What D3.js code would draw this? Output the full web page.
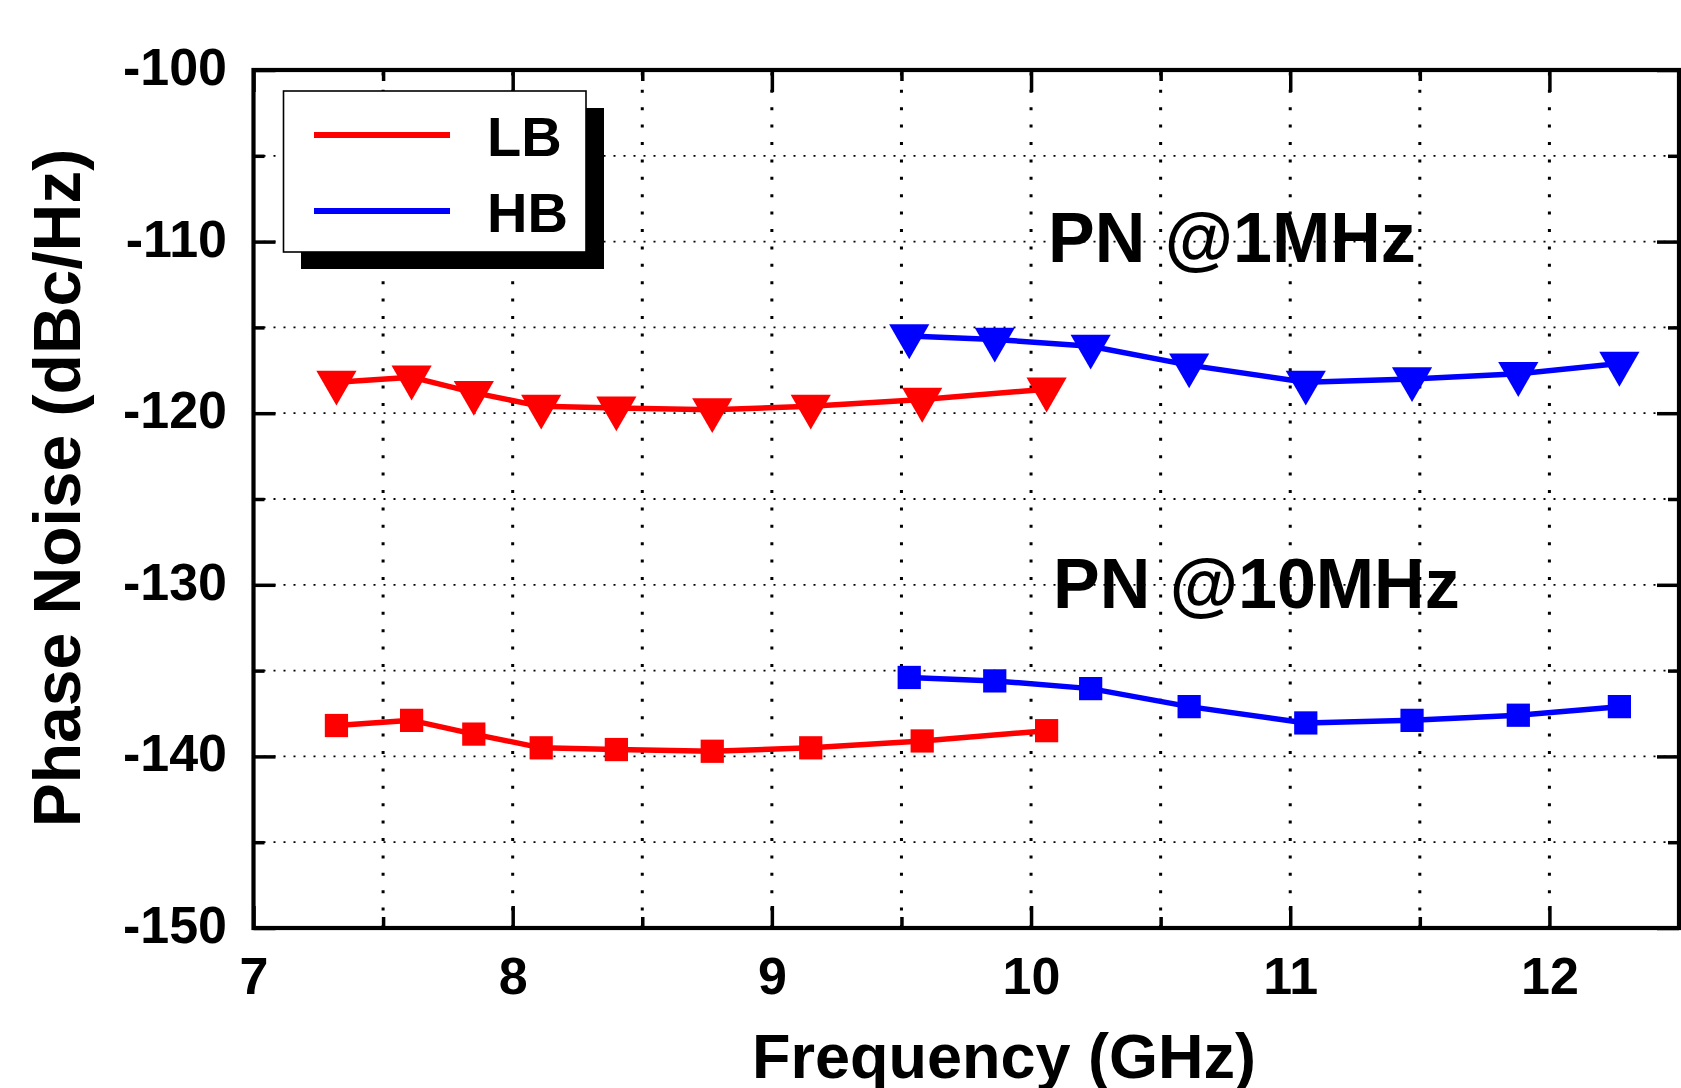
<!DOCTYPE html>
<html>
<head>
<meta charset="utf-8">
<script src="https://cdn.jsdelivr.net/npm/d3@7"></script>
<style>
  html, body { margin: 0; padding: 0; background: #fff; }
  svg { display: block; }
  text { font-family: "Liberation Sans", Arial, Helvetica, sans-serif; font-weight: bold; fill: #000; }
</style>
</head>
<body>
<svg id="chart" width="1681" height="1088"></svg>
<script>
// ---- data ----
const lbFreq  = [7.32, 7.61, 7.85, 8.11, 8.40, 8.77, 9.15, 9.58, 10.06];
const lbPN1M  = [-118.2, -117.9, -118.8, -119.6, -119.7, -119.8, -119.6, -119.2, -118.6];
const lbPN10M = [-138.2, -137.9, -138.7, -139.5, -139.6, -139.7, -139.5, -139.1, -138.5];
const hbFreq  = [9.53, 9.86, 10.23, 10.61, 11.06, 11.47, 11.88, 12.27];
const hbPN1M  = [-115.5, -115.7, -116.1, -117.2, -118.2, -118.0, -117.7, -117.1];
const hbPN10M = [-135.4, -135.6, -136.05, -137.1, -138.05, -137.9, -137.6, -137.1];
const xMajorTicks = [7, 8, 9, 10, 11, 12];
const xMinorTicks = [7.5, 8.5, 9.5, 10.5, 11.5, 12.5];
const yMajorTicks = [-100, -110, -120, -130, -140, -150];
const yMinorTicks = [-105, -115, -125, -135, -145];
const xGrid = [7.5, 8, 8.5, 9, 9.5, 10, 10.5, 11, 11.5, 12];
const yGrid = [-105, -110, -115, -120, -125, -130, -135, -140, -145];
const legendNames = ["LB", "HB"];
const seriesColors = ["#ff0000", "#0000ff"];
const annotations = ["PN @1MHz", "PN @10MHz"];

// ---- layout ----
const L = 253.5, R = 1679, T = 70, B = 928;
const svg = d3.select("#chart");
const x = d3.scaleLinear().domain([7, 12.5]).range([L, R]);
const y = d3.scaleLinear().domain([-150, -100]).range([B, T]);

// grid
const grid = svg.append("g");
grid.selectAll("line.v").data(xGrid).enter().append("line")
  .attr("x1", d => x(d)).attr("x2", d => x(d)).attr("y1", B).attr("y2", T)
  .attr("stroke", "#000").attr("stroke-width", 3).attr("stroke-dasharray", "3,14.4");
grid.selectAll("line.h").data(yGrid).enter().append("line")
  .attr("x1", L).attr("x2", R).attr("y1", d => y(d)).attr("y2", d => y(d))
  .attr("stroke", "#000").attr("stroke-width", 1.8).attr("stroke-dasharray", "2,8");

// annotations
svg.append("text").attr("x", 1048).attr("y", 262).attr("font-size", 70).text(annotations[0]);
svg.append("text").attr("x", 1053).attr("y", 608).attr("font-size", 70).text(annotations[1]);

// series
const line = d3.line().x(d => x(d[0])).y(d => y(d[1]));
const series = [
  { f: lbFreq, v: lbPN1M, c: seriesColors[0], sym: "tri" },
  { f: lbFreq, v: lbPN10M, c: seriesColors[0], sym: "sq" },
  { f: hbFreq, v: hbPN1M, c: seriesColors[1], sym: "tri" },
  { f: hbFreq, v: hbPN10M, c: seriesColors[1], sym: "sq" }
];
const triPath = d3.symbol().type(d3.symbolTriangle).size(700)();
const sqPath = d3.symbol().type(d3.symbolSquare).size(540)();
series.forEach(s => {
  const pts = s.f.map((f, i) => [f, s.v[i]]);
  svg.append("path").datum(pts).attr("d", line)
    .attr("fill", "none").attr("stroke", s.c).attr("stroke-width", 5.5).attr("stroke-linejoin", "round");
  svg.selectAll(null).data(pts).enter().append("path")
    .attr("d", s.sym === "tri" ? triPath : sqPath)
    .attr("transform", d => `translate(${x(d[0])},${y(d[1])})` + (s.sym === "tri" ? " rotate(180)" : ""))
    .attr("fill", s.c);
});

// axes
function styleAxis(g) {
  g.select(".domain").remove();
  g.selectAll(".tick line").attr("stroke", "#000").attr("stroke-width", 3.5);
}
const fmt = d => String(d);
svg.append("g").attr("transform", `translate(0,${B})`)
  .call(d3.axisBottom(x).tickValues(xMajorTicks).tickSize(-22).tickPadding(29).tickFormat(fmt))
  .call(styleAxis)
  .call(g => g.selectAll("text").attr("font-size", 52).attr("font-family", null).attr("fill", "#000"));
svg.append("g").attr("transform", `translate(0,${B})`)
  .call(d3.axisBottom(x).tickValues(xMinorTicks).tickSize(-11).tickFormat(""))
  .call(styleAxis);
svg.append("g").attr("transform", `translate(0,${T})`)
  .call(d3.axisTop(x).tickValues(xMajorTicks).tickSize(-22).tickFormat(""))
  .call(styleAxis);
svg.append("g").attr("transform", `translate(0,${T})`)
  .call(d3.axisTop(x).tickValues(xMinorTicks).tickSize(-11).tickFormat(""))
  .call(styleAxis);
svg.append("g").attr("transform", `translate(${L},0)`)
  .call(d3.axisLeft(y).tickValues(yMajorTicks).tickSize(-22).tickPadding(26.5).tickFormat(fmt))
  .call(styleAxis)
  .call(g => g.selectAll("text").attr("font-size", 52).attr("font-family", null).attr("fill", "#000").attr("dy", "0.28em"));
svg.append("g").attr("transform", `translate(${L},0)`)
  .call(d3.axisLeft(y).tickValues(yMinorTicks).tickSize(-11).tickFormat(""))
  .call(styleAxis);
svg.append("g").attr("transform", `translate(${R},0)`)
  .call(d3.axisRight(y).tickValues(yMajorTicks).tickSize(-22).tickFormat(""))
  .call(styleAxis);
svg.append("g").attr("transform", `translate(${R},0)`)
  .call(d3.axisRight(y).tickValues(yMinorTicks).tickSize(-11).tickFormat(""))
  .call(styleAxis);

// frame
svg.append("rect").attr("x", L).attr("y", T).attr("width", R - L).attr("height", B - T)
  .attr("fill", "none").attr("stroke", "#000").attr("stroke-width", 4.2);

// axis titles
svg.append("text").attr("x", 1004).attr("y", 1078).attr("text-anchor", "middle")
  .attr("font-size", 63).text("Frequency (GHz)");
svg.append("text").attr("transform", "translate(80,488) rotate(-90)").attr("text-anchor", "middle")
  .attr("font-size", 66).text("Phase Noise (dBc/Hz)");

// legend
const lg = svg.append("g");
lg.append("rect").attr("x", 301).attr("y", 108).attr("width", 303).attr("height", 161).attr("fill", "#000");
lg.append("rect").attr("x", 283.5).attr("y", 91).attr("width", 302.5).attr("height", 161)
  .attr("fill", "#fff").attr("stroke", "#000").attr("stroke-width", 1.6);
legendNames.forEach((n, i) => {
  const yy = 135 + i * 76;
  lg.append("line").attr("x1", 314).attr("x2", 450).attr("y1", yy).attr("y2", yy)
    .attr("stroke", seriesColors[i]).attr("stroke-width", 6);
  lg.append("text").attr("x", 487).attr("y", yy + 21).attr("font-size", 56).text(n);
});
</script>
</body>
</html>
